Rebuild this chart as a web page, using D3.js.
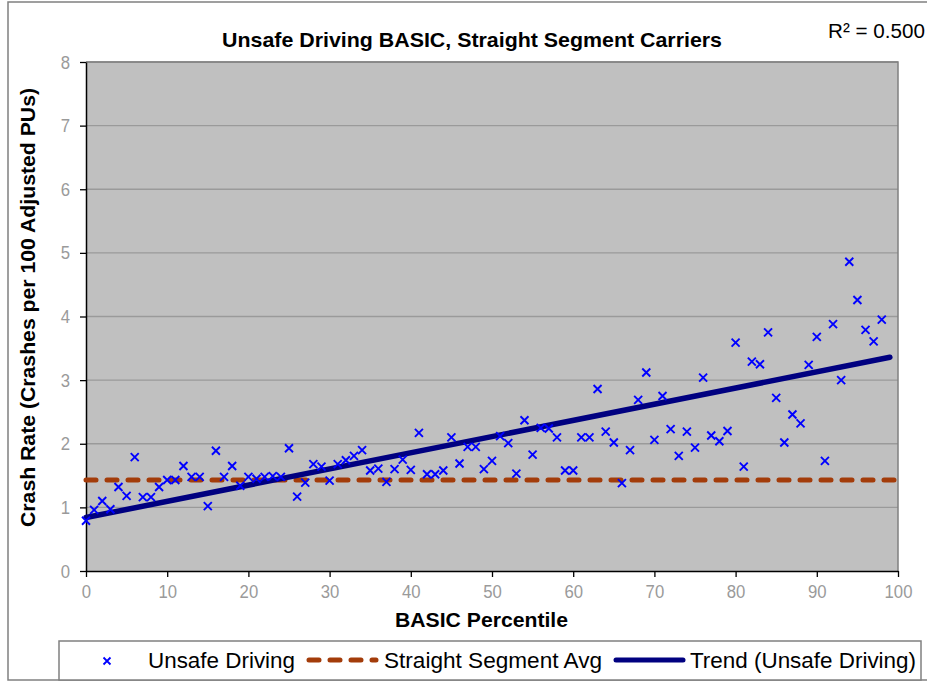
<!DOCTYPE html>
<html>
<head>
<meta charset="utf-8">
<script src="https://cdn.jsdelivr.net/npm/d3@7"></script>
<style>
  body { margin: 0; background: #fff; }
  text { font-family: "Liberation Sans", Arial, sans-serif; }
</style>
</head>
<body>
<div id="canvas"></div>
<script>
// BASIC percentile (0..98) and crash rate per carrier group
const percentiles = d3.range(0, 99);
const crashRates = [
  0.79, 0.96, 1.10, 0.97, 1.32, 1.18, 1.79, 1.16, 1.16, 1.32,
  1.43, 1.43, 1.65, 1.48, 1.48, 1.02, 1.89, 1.48, 1.65, 1.34,
  1.48, 1.45, 1.48, 1.49, 1.48, 1.93, 1.17, 1.39, 1.68, 1.64,
  1.42, 1.68, 1.74, 1.81, 1.90, 1.58, 1.61, 1.40, 1.60, 1.75,
  1.59, 2.17, 1.52, 1.52, 1.58, 2.10, 1.69, 1.95, 1.95, 1.60,
  1.73, 2.12, 2.01, 1.53, 2.37, 1.83, 2.25, 2.24, 2.10, 1.58,
  1.58, 2.10, 2.10, 2.86, 2.19, 2.02, 1.38, 1.90, 2.69, 3.12,
  2.06, 2.75, 2.23, 1.81, 2.19, 1.94, 3.04, 2.13, 2.04, 2.20,
  3.59, 1.64, 3.29, 3.25, 3.75, 2.72, 2.02, 2.46, 2.32, 3.24,
  3.68, 1.73, 3.88, 3.00, 4.86, 4.26, 3.79, 3.61, 3.95
];
const segmentAvg = 1.43;
// trend line as drawn in the original
const trendX = [0, 99];
const trendY = [0.84, 3.36];
const xTicks = [0, 10, 20, 30, 40, 50, 60, 70, 80, 90, 100];
const yTicks = [0, 1, 2, 3, 4, 5, 6, 7, 8];
const legendLabels = ["Unsafe Driving", "Straight Segment Avg", "Trend (Unsafe Driving)"];

const width = 927;
const height = 681;
const margin = { top: 62, left: 86, bottom: 110, right: 29 };
const iwidth = width - margin.left - margin.right;
const iheight = height - margin.top - margin.bottom;

const svg = d3.select("#canvas").append("svg")
    .attr("width", width)
    .attr("height", height);

// chart frame
svg.append("rect")
    .attr("x", 8).attr("y", 2)
    .attr("width", 930).attr("height", 678)
    .attr("fill", "#fff")
    .attr("stroke", "#808080")
    .attr("stroke-width", 1.5);

svg.append("text")
    .attr("x", 472).attr("y", 47)
    .attr("text-anchor", "middle")
    .attr("textLength", 500).attr("lengthAdjust", "spacingAndGlyphs")
    .style("font-size", "21px").style("font-weight", "bold")
    .text("Unsafe Driving BASIC, Straight Segment Carriers");

svg.append("text")
    .attr("x", 828).attr("y", 38)
    .attr("textLength", 97).attr("lengthAdjust", "spacingAndGlyphs")
    .style("font-size", "20px")
    .text("R² = 0.500");

const g = svg.append("g").attr("transform", `translate(${margin.left},${margin.top})`);

const x = d3.scaleLinear().domain([0, 100]).range([0, iwidth]);
const y = d3.scaleLinear().domain([0, 8]).range([iheight, 0]);

g.append("rect")
    .attr("width", iwidth).attr("height", iheight)
    .attr("fill", "#c0c0c0");

g.append("g")
    .selectAll("line").data(yTicks.slice(1))
    .join("line")
    .attr("x1", 0).attr("x2", iwidth)
    .attr("y1", d => y(d)).attr("y2", d => y(d))
    .attr("stroke", "#9a9a9a").attr("stroke-width", 1.3);

// plot border (top, right)
g.append("path")
    .attr("d", `M0,0H${iwidth}V${iheight}`)
    .attr("fill", "none")
    .attr("stroke", "#808080").attr("stroke-width", 1.5);

const xAxis = g.append("g")
    .attr("transform", `translate(0,${iheight})`)
    .call(d3.axisBottom(x).tickValues(xTicks).tickSize(6).tickPadding(8).tickSizeOuter(0));
const yAxis = g.append("g")
    .call(d3.axisLeft(y).tickValues(yTicks).tickSize(6).tickPadding(10).tickSizeOuter(0));

[xAxis, yAxis].forEach(a => {
    a.select(".domain").attr("stroke", "#000").attr("stroke-width", 1.5);
    a.selectAll(".tick line").attr("stroke", "#000").attr("stroke-width", 1.3);
    a.selectAll(".tick text")
        .attr("fill", "#9a9a9a")
        .style("font-size", "19px")
        .style("font-family", "'Liberation Sans', Arial, sans-serif");
});
// tick labels in the original are a little condensed
xAxis.selectAll(".tick text").attr("transform", "scale(0.88,1)");
yAxis.selectAll(".tick text").attr("x", -18.2).attr("transform", "scale(0.88,1)");

// straight segment average
g.append("line")
    .attr("x1", x(0)).attr("x2", x(100))
    .attr("y1", y(segmentAvg)).attr("y2", y(segmentAvg))
    .attr("stroke", "#a33c0a").attr("stroke-width", 5)
    .attr("stroke-dasharray", "10,11")
    .attr("stroke-linecap", "round");

// trend
g.append("line")
    .attr("x1", x(trendX[0])).attr("y1", y(trendY[0]))
    .attr("x2", x(trendX[1])).attr("y2", y(trendY[1]))
    .attr("stroke", "#000080").attr("stroke-width", 5.5)
    .attr("stroke-linecap", "round");

const cross = s => `M${-s},${-s}L${s},${s}M${-s},${s}L${s},${-s}`;

g.append("g")
    .selectAll("path").data(percentiles)
    .join("path")
    .attr("transform", (d, i) => `translate(${x(d)},${y(crashRates[i])})`)
    .attr("d", cross(4))
    .attr("stroke", "#0000ff").attr("stroke-width", 1.9)
    .attr("fill", "none");

svg.append("text")
    .attr("x", 395).attr("y", 627)
    .attr("textLength", 173).attr("lengthAdjust", "spacingAndGlyphs")
    .style("font-size", "21px").style("font-weight", "bold")
    .text("BASIC Percentile");

svg.append("text")
    .attr("transform", `translate(35,527) rotate(-90)`)
    .attr("textLength", 439).attr("lengthAdjust", "spacingAndGlyphs")
    .style("font-size", "21px").style("font-weight", "bold")
    .text("Crash Rate (Crashes per 100 Adjusted PUs)");

// legend
const leg = svg.append("g");
leg.append("rect")
    .attr("x", 59).attr("y", 641)
    .attr("width", 862).attr("height", 39)
    .attr("fill", "#fff")
    .attr("stroke", "#808080").attr("stroke-width", 1.5);

leg.append("path")
    .attr("transform", "translate(107,661)")
    .attr("d", cross(3.5))
    .attr("stroke", "#0000ff").attr("stroke-width", 1.8);
leg.append("line")
    .attr("x1", 309).attr("x2", 376).attr("y1", 660).attr("y2", 660)
    .attr("stroke", "#a33c0a").attr("stroke-width", 5)
    .attr("stroke-dasharray", "10,11")
    .attr("stroke-linecap", "round");
leg.append("line")
    .attr("x1", 616).attr("x2", 683).attr("y1", 660).attr("y2", 660)
    .attr("stroke", "#000080").attr("stroke-width", 5)
    .attr("stroke-linecap", "round");

const legX = [148, 384, 690];
const legW = [147, 218, 226];
leg.selectAll("text.lbl").data(legendLabels)
    .join("text")
    .attr("class", "lbl")
    .attr("x", (d, i) => legX[i]).attr("y", 668)
    .attr("textLength", (d, i) => legW[i]).attr("lengthAdjust", "spacingAndGlyphs")
    .style("font-size", "22px")
    .text(d => d);
</script>
</body>
</html>
